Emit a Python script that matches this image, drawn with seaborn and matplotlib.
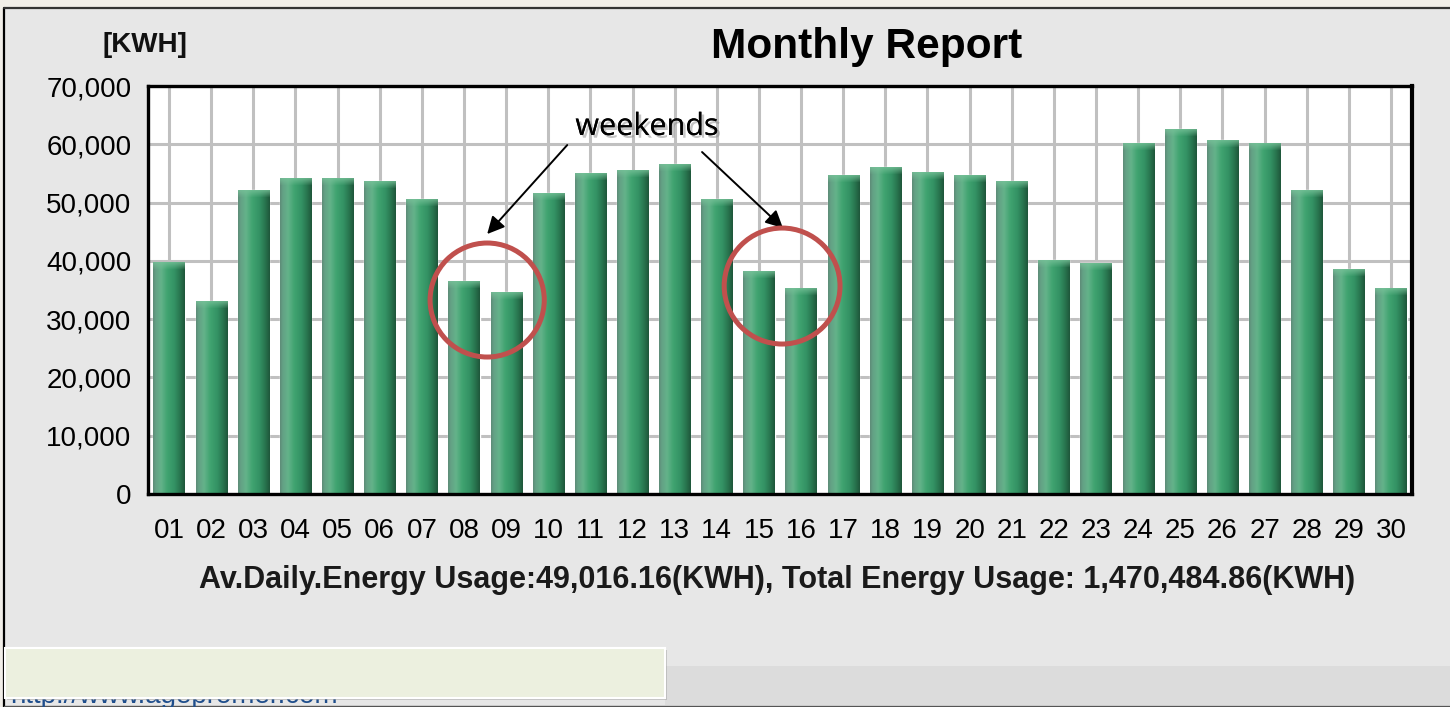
import numpy as np
import pandas as pd
import matplotlib
matplotlib.use("Agg")
import matplotlib.pyplot as plt
import seaborn as sns
from matplotlib.patches import Rectangle, Ellipse
import matplotlib.patheffects as pe

# ---------------- data ----------------
days = ["01", "02", "03", "04", "05", "06", "07", "08", "09", "10",
        "11", "12", "13", "14", "15", "16", "17", "18", "19", "20",
        "21", "22", "23", "24", "25", "26", "27", "28", "29", "30"]
usage_kwh = [39700, 33100, 52100, 54100, 54100, 53700, 50600, 36500, 34600, 51600,
             55000, 55500, 56600, 50600, 38100, 35200, 54700, 56100, 55100, 54700,
             53700, 40100, 39600, 60200, 62600, 60700, 60100, 52100, 38600, 35200]
y_ticks = [0, 10000, 20000, 30000, 40000, 50000, 60000, 70000]
y_tick_labels = ["0", "10,000", "20,000", "30,000", "40,000", "50,000", "60,000", "70,000"]
title = "Monthly Report"
unit_label = "[KWH]"
summary = "Av.Daily.Energy Usage:49,016.16(KWH), Total Energy Usage: 1,470,484.86(KWH)"
note = "weekends"
url_text = "http://www.agepromer.com"

df = pd.DataFrame({"day": days, "kwh": usage_kwh})

# ---------------- style ----------------
sns.set_theme(style="white")
plt.rcParams["font.family"] = ["Liberation Sans", "DejaVu Sans"]
plt.rcParams["text.color"] = "black"

W, H = 1450, 707
fig = plt.figure(figsize=(W / 100, H / 100), dpi=100)
fig.patch.set_facecolor("#f1eee8")

def fx(px):
    return px / W

def fy(py):
    return 1 - py / H

# grey panel
fig.add_artist(Rectangle((fx(4), 0), 1 - fx(4), fy(8), transform=fig.transFigure,
                         facecolor="#e7e7e7", edgecolor="none", zorder=0))
fig.add_artist(plt.Line2D([fx(4), fx(4)], [0, fy(8)], transform=fig.transFigure,
                          color="black", lw=1.6, zorder=1))
fig.add_artist(plt.Line2D([fx(4), 1], [fy(8), fy(8)], transform=fig.transFigure,
                          color="#333333", lw=1.6, zorder=1))
# bottom strips
fig.add_artist(Rectangle((fx(665), fy(705)), 1 - fx(665), fy(666) - fy(705),
                         transform=fig.transFigure, facecolor="#dcdcdc",
                         edgecolor="none", zorder=1))
fig.add_artist(plt.Line2D([fx(4), 1], [fy(705.5), fy(705.5)], transform=fig.transFigure,
                          color="#555555", lw=1.0, zorder=1))
fig.text(fx(10), fy(703), url_text, color="#1f4e8c", fontsize=20,
         ha="left", va="baseline", zorder=1.5)
fig.add_artist(Rectangle((fx(7), fy(700)), fx(660), fy(650) - fy(700),
                         transform=fig.transFigure, facecolor="#a0a0a0",
                         edgecolor="none", alpha=0.5, zorder=1.8))
fig.add_artist(Rectangle((fx(5), fy(698)), fx(660), fy(648) - fy(698),
                         transform=fig.transFigure, facecolor="#ecf0df",
                         edgecolor="white", lw=1.5, zorder=2))

# ---------------- axes ----------------
ax = fig.add_axes([fx(148), fy(494), fx(1412) - fx(148), fy(86) - fy(494)])
ax.set_facecolor("white")
sns.barplot(data=df, x="day", y="kwh", ax=ax, color="#3a9a68", saturation=1,
            width=0.74, zorder=2)
ax.set_xlim(-0.5, len(days) - 0.5)
ax.set_ylim(0, 70000)
ax.set_yticks(y_ticks)
ax.set_yticklabels(y_tick_labels)
ax.set_xlabel("")
ax.set_ylabel("")
ax.grid(True, color="#c0c0c0", lw=2.2)
ax.set_axisbelow(True)
for side, s in ax.spines.items():
    s.set_visible(True)
    s.set_color("black")
    s.set_linewidth(2.4)
ax.spines["right"].set_linewidth(3.0)
ax.tick_params(axis="both", direction="out", length=8, width=1.8, color="black",
               labelsize=20, labelcolor="black")
ax.tick_params(axis="y", pad=4)
ax.tick_params(axis="x", pad=9)

# cylinder shading on each bar
stops_pos = [0.0, 0.08, 0.25, 0.45, 0.68, 0.85, 1.0]
stops_col = np.array([
    [0.37, 0.55, 0.47],
    [0.39, 0.63, 0.52],
    [0.39, 0.70, 0.54],
    [0.25, 0.64, 0.44],
    [0.20, 0.57, 0.39],
    [0.16, 0.46, 0.31],
    [0.12, 0.34, 0.23],
])
ncol = 64
xs = np.linspace(0, 1, ncol)
row = np.stack([np.interp(xs, stops_pos, stops_col[:, c]) for c in range(3)], axis=-1)
fig.canvas.draw()
for p in list(ax.patches):
    x0, y0, w, h = p.get_x(), p.get_y(), p.get_width(), p.get_height()
    pix_h = abs(ax.transData.transform((0, h))[1] - ax.transData.transform((0, 0))[1])
    nrow = max(int(round(pix_h)), 2)
    img = np.repeat(row[None, :, :], nrow, axis=0).copy()
    cap = min(7, nrow)
    light = np.array([0.47, 0.76, 0.60])
    for r in range(cap):
        f = 0.75 * (1 - r / cap)
        img[r] = img[r] * (1 - f) + light * f
    ax.imshow(img, extent=[x0, x0 + w, y0, y0 + h], origin="upper", aspect="auto",
              interpolation="bilinear", zorder=2.5)
ax.set_xlim(-0.5, len(days) - 0.5)
ax.set_ylim(0, 70000)

# ---------------- annotations ----------------
shadow = [pe.withSimplePatchShadow(offset=(2, -2), shadow_rgbFace="#808080", alpha=0.45),
          pe.Normal()]
ax.text(11.34, 61600, note, fontsize=22, family=["Open Sans", "DejaVu Sans"],
        ha="center", va="baseline", color="black", zorder=6, path_effects=shadow)
arrow_kw = dict(arrowstyle="-|>", mutation_scale=26, lw=1.4, color="black",
                shrinkA=0, shrinkB=0)
ax.annotate("", xy=(7.55, 44600), xytext=(9.45, 59870), arrowprops=arrow_kw, zorder=6)
ax.annotate("", xy=(14.57, 45630), xytext=(12.65, 58670), arrowprops=arrow_kw, zorder=6)
ax.add_patch(Ellipse((7.55, 33280), 2.71, 19560, fill=False, edgecolor="#c0504d",
                     lw=3.6, zorder=6))
ax.add_patch(Ellipse((14.55, 35680), 2.75, 19900, fill=False, edgecolor="#c0504d",
                     lw=3.6, zorder=6))

# ---------------- texts ----------------
fig.text(fx(867), fy(47), title, fontsize=30.5, fontweight="bold", ha="center",
         va="center", color="black")
fig.text(fx(145), fy(45), unit_label, fontsize=20, fontweight="bold", ha="center",
         va="center", color="#111111")
fig.text(fx(777), fy(580), summary, fontsize=22, fontweight="bold", ha="center",
         va="center", color="#1a1a1a")

fig.savefig("out.png", dpi=100, facecolor=fig.get_facecolor())
